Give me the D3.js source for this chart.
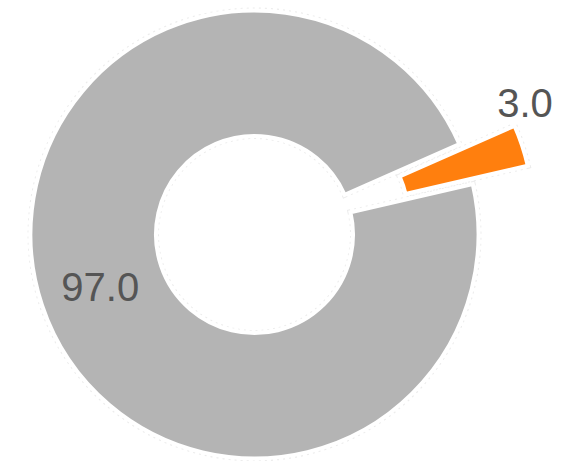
<!DOCTYPE html>
<html><head><meta charset="utf-8">
<script src="https://cdn.jsdelivr.net/npm/d3@7"></script>
<style>body{margin:0;background:#fff}</style>
</head><body>
<svg id="c" width="572" height="461"></svg>
<script>
const categories = ["A", "B"];
const values = [3.0, 97.0];
const labels = ["3.0", "97.0"];
const colors = ["#ff7f0e", "#b4b4b4"];
const explode = [58, 0];

const W = 572, H = 461;
const cx = 254.5, cy = 234.5;
const rOuter = 224, rInner = 98.5;
const startDeg = 66.2;
const svg = d3.select("#c");
const g = svg.append("g").attr("transform", `translate(${cx},${cy})`);

const pie = d3.pie().sort(null).value(d => d)
  .startAngle(startDeg * Math.PI / 180).endAngle((startDeg + 360) * Math.PI / 180);
const arcs = pie(values);
const arc = d3.arc().innerRadius(rInner).outerRadius(rOuter);

function offset(d, i) {
  const a = (d.startAngle + d.endAngle) / 2;
  return [Math.sin(a) * explode[i], -Math.cos(a) * explode[i]];
}

const slices = g.selectAll("g.slice").data(arcs).join("g").attr("class", "slice")
  .attr("transform", (d, i) => { const o = offset(d, i); return `translate(${o[0]},${o[1]})`; });
slices.append("path").attr("d", arc).attr("fill", "none")
  .attr("stroke", "#ececec").attr("stroke-width", 6).attr("stroke-dasharray", "2,4");
slices.append("path").attr("d", arc).attr("fill", (d, i) => colors[i])
  .attr("stroke", "#fff").attr("stroke-width", 4).attr("stroke-linejoin", "miter");

// labels
const labelArcIn = d3.arc().innerRadius(161).outerRadius(161);
g.selectAll("text.lbl").data(arcs).join("text").attr("class", "lbl")
  .attr("transform", (d, i) => {
    let p;
    if (explode[i] > 0) {
      const a = (d.startAngle + d.endAngle) / 2 - 7.6 * Math.PI / 180;
      p = [Math.sin(a) * 301, -Math.cos(a) * 301];
    } else {
      const c = labelArcIn.centroid(d);
      p = [c[0] - 1.5, c[1] + 1];
    }
    return `translate(${p[0]},${p[1]})`;
  })
  .attr("text-anchor", "middle").attr("dy", "0.36em")
  .attr("font-family", "Liberation Sans, Arial, sans-serif").attr("font-size", 40)
  .attr("fill", "#555").text((d, i) => labels[i]);
</script>
</body></html>
